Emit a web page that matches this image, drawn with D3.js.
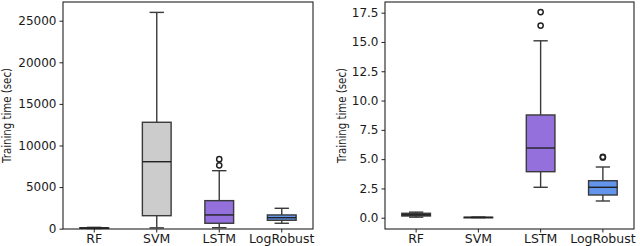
<html lang="en">

<head>
    <meta charset="UTF-8">
    <title>Training time box plots</title>
    <style>
        body {
            margin: 0;
            background: #fff;
            font-family: "DejaVu Sans", sans-serif;
        }

        text {
            fill: #1a1a1a;
        }
    </style>
</head>

<body>
    <div id="chart"></div>
    <script src="https://d3js.org/d3.v7.min.js"></script>
    <script>
        // categories shared by both panels
        const categories = ['RF', 'SVM', 'LSTM', 'LogRobust'];
        const fills = ['#5e5e5e', '#cccccc', '#9370db', '#6495ed'];

        // left panel: box stats per category (sec)
        const leftLow = [20, 100, 120, 650];
        const leftQ1 = [50, 1560, 650, 1010];
        const leftMedian = [80, 8050, 1650, 1320];
        const leftQ3 = [110, 12790, 3370, 1650];
        const leftHigh = [160, 26000, 6970, 2450];
        const leftOutliers = [[], [], [7620, 8350], []];
        const leftTicks = [0, 5000, 10000, 15000, 20000, 25000];

        // right panel
        const rightLow = [0.05, 0.01, 2.6, 1.43];
        const rightQ1 = [0.15, 0.02, 3.93, 1.94];
        const rightMedian = [0.25, 0.03, 5.95, 2.6];
        const rightQ3 = [0.38, 0.04, 8.77, 3.16];
        const rightHigh = [0.48, 0.06, 15.1, 4.33];
        const rightOutliers = [[], [], [16.4, 17.55], [5.15, 5.2]];
        const rightTicks = [0, 2.5, 5, 7.5, 10, 12.5, 15, 17.5];

        const width = 640;
        const height = 246;

        const svg = d3.select('#chart')
            .append('svg')
            .attr('width', width)
            .attr('height', height);

        function drawPanel(p) {
            const x = d3.scaleBand()
                .domain(categories)
                .range([p.left, p.right]);
            const y = d3.scaleLinear()
                .domain(p.domain)
                .range([229, 2]);

            const g = svg.append('g');
            const bw = x.bandwidth() * 0.46;

            const rows = categories.map((c, i) => ({
                c, i,
                lo: p.low[i], q1: p.q1[i], med: p.median[i],
                q3: p.q3[i], hi: p.high[i], out: p.outliers[i]
            }));

            const box = g.selectAll('.box')
                .data(rows)
                .enter()
                .append('g')
                .attr('class', 'box');

            const cx = d => x(d.c) + x.bandwidth() / 2;

            // whiskers
            box.append('line')
                .attr('x1', cx).attr('x2', cx)
                .attr('y1', d => y(d.q1)).attr('y2', d => y(d.lo))
                .attr('stroke', '#3a3a3a').attr('stroke-width', 1.4);
            box.append('line')
                .attr('x1', cx).attr('x2', cx)
                .attr('y1', d => y(d.q3)).attr('y2', d => y(d.hi))
                .attr('stroke', '#3a3a3a').attr('stroke-width', 1.4);
            // caps
            [ 'lo', 'hi' ].forEach(k => {
                box.append('line')
                    .attr('x1', d => cx(d) - bw / 4).attr('x2', d => cx(d) + bw / 4)
                    .attr('y1', d => y(d[k])).attr('y2', d => y(d[k]))
                    .attr('stroke', '#3a3a3a').attr('stroke-width', 1.4);
            });

            box.append('rect')
                .attr('x', d => cx(d) - bw / 2)
                .attr('width', bw)
                .attr('y', d => y(d.q3))
                .attr('height', d => Math.max(0.5, y(d.q1) - y(d.q3)))
                .attr('fill', d => fills[d.i])
                .attr('stroke', '#3a3a3a')
                .attr('stroke-width', 1.4);

            box.append('line')
                .attr('x1', d => cx(d) - bw / 2).attr('x2', d => cx(d) + bw / 2)
                .attr('y1', d => y(d.med)).attr('y2', d => y(d.med))
                .attr('stroke', '#222').attr('stroke-width', 1.4);

            box.selectAll('.outlier')
                .data(d => d.out.map(v => ({ c: d.c, v })))
                .enter()
                .append('circle')
                .attr('class', 'outlier')
                .attr('cx', cx)
                .attr('cy', d => y(d.v))
                .attr('r', 2.6)
                .attr('fill', 'none')
                .attr('stroke', '#222')
                .attr('stroke-width', 1.5);

            // axes
            const yAxis = d3.axisLeft(y)
                .tickValues(p.ticks)
                .tickFormat(p.format)
                .tickSize(3.5)
                .tickPadding(3);
            const ya = g.append('g')
                .attr('transform', `translate(${p.left},0)`)
                .call(yAxis);
            ya.select('.domain').remove();
            ya.selectAll('text').style('font-size', '12px').style('font-family', '"DejaVu Sans", sans-serif');
            ya.selectAll('line').attr('stroke', '#222');

            const xAxis = d3.axisBottom(x)
                .tickSize(3.5)
                .tickPadding(2);
            const xa = g.append('g')
                .attr('transform', 'translate(0,229)')
                .call(xAxis);
            xa.select('.domain').remove();
            xa.selectAll('text').style('font-size', '12.5px').style('font-family', '"DejaVu Sans", sans-serif');
            xa.selectAll('line').attr('stroke', '#222');

            g.append('rect')
                .attr('x', p.left)
                .attr('y', 2)
                .attr('width', p.right - p.left)
                .attr('height', 227)
                .attr('fill', 'none')
                .attr('stroke', '#222')
                .attr('stroke-width', 1.1);

            g.append('text')
                .attr('transform', `translate(${p.labelX},115.5) rotate(-90)`)
                .attr('text-anchor', 'middle')
                .attr('dy', '0.35em')
                .style('font-size', '12.5px')
                .attr('textLength', 95)
                .attr('lengthAdjust', 'spacingAndGlyphs')
                .text('Training time (sec)');
        }

        drawPanel({
            left: 63, right: 313, domain: [-40, 27250],
            low: leftLow, q1: leftQ1, median: leftMedian, q3: leftQ3, high: leftHigh,
            outliers: leftOutliers, ticks: leftTicks, format: d3.format('d'), labelX: 7
        });

        drawPanel({
            left: 385, right: 634, domain: [-0.96, 18.41],
            low: rightLow, q1: rightQ1, median: rightMedian, q3: rightQ3, high: rightHigh,
            outliers: rightOutliers, ticks: rightTicks, format: d3.format('.1f'), labelX: 342
        });
    </script>
</body>

</html>
